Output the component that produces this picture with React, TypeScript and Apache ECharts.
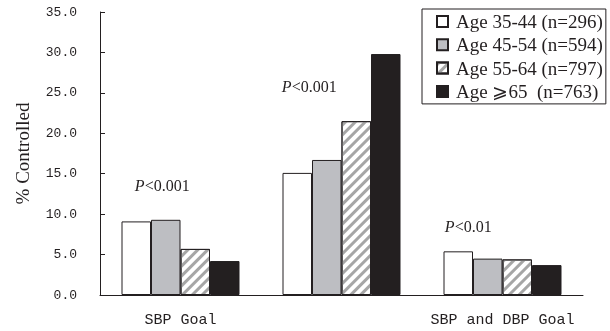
import React, { useEffect, useRef } from "react";
import * as echarts from "echarts";

const categories = ["SBP Goal", "DBP Goal", "SBP and DBP Goal"];
const seriesNames = [
  "Age 35-44 (n=296)",
  "Age 45-54 (n=594)",
  "Age 55-64 (n=797)",
  "Age \u2A7E65\u00A0\u00A0(n=763)",
];
const age35_44 = [9.1, 15.1, 5.4];
const age45_54 = [9.3, 16.7, 4.5];
const age55_64 = [5.7, 21.5, 4.4];
const age65plus = [4.2, 29.8, 3.7];
const yTicks = { min: 0, max: 35, interval: 5 };
const pLabels = [
  { cat: "SBP Goal", value: 13.6, p: "<0.001", dx: 26 },
  { cat: "DBP Goal", value: 25.8, p: "<0.001", dx: 12 },
  { cat: "SBP and DBP Goal", value: 8.5, p: "<0.01", dx: 10 },
];

const INK = "#231f20";
const SERIF = "'Liberation Serif', 'Times New Roman', serif";
const MONO = "'Liberation Mono', monospace";

export default function App() {
  const ref = useRef<HTMLDivElement>(null);
  useEffect(() => {
    if (!ref.current) return;
    const chart = echarts.init(ref.current, null, { renderer: "svg" });
    const border = { borderColor: INK, borderWidth: 1 };
    const styles = [
      { color: "#ffffff", ...border },
      { color: "#bdbec2", ...border },
      {
        color: "#ffffff",
        ...border,
        decal: {
          symbol: "rect",
          symbolSize: 1,
          color: "#a6a6a6",
          dashArrayX: [1, 0],
          dashArrayY: [2.2, 3.8],
          rotation: -Math.PI / 4,
        },
      },
      { color: INK, ...border },
    ];
    const datas = [age35_44, age45_54, age55_64, age65plus];
    const series: any[] = datas.map((d, i) => ({
      name: seriesNames[i],
      type: "bar",
      data: d,
      barWidth: 29.5,
      barGap: "0%",
      itemStyle: styles[i],
      emphasis: { disabled: true },
    }));
    series[0].markPoint = {
      symbol: "circle",
      symbolSize: 0,
      silent: true,
      data: pLabels.map((p) => ({
        coord: [p.cat, p.value],
        label: {
          show: true,
          formatter: "{i|P}{n|" + p.p + "}",
          offset: [p.dx, 0],
          rich: {
            i: { fontFamily: SERIF, fontSize: 16, fontStyle: "italic", color: INK },
            n: { fontFamily: SERIF, fontSize: 16, color: INK },
          },
        },
      })),
    };
    chart.setOption({
      animation: false,
      grid: { left: 100, right: 27, top: 12, bottom: 36 },
      legend: {
        orient: "vertical",
        left: 422,
        top: 9,
        data: seriesNames,
        selectedMode: false,
        borderColor: INK,
        borderWidth: 1,
        borderRadius: 0,
        padding: [3, 3, 3, 14],
        itemWidth: 11,
        itemHeight: 11,
        itemGap: 4.3,
        icon: "rect",
        textStyle: {
          fontFamily: SERIF,
          fontSize: 19,
          lineHeight: 18,
          color: INK,
          padding: [0, 0, 0, 3],
        },
      },
      xAxis: {
        type: "category",
        data: categories,
        axisLine: { lineStyle: { color: INK, width: 1 } },
        axisTick: { inside: true, length: 5, lineStyle: { color: INK } },
        axisLabel: { fontFamily: MONO, fontSize: 15, color: INK, margin: 18 },
      },
      yAxis: {
        type: "value",
        min: yTicks.min,
        max: yTicks.max,
        interval: yTicks.interval,
        name: "% Controlled",
        nameLocation: "middle",
        nameGap: 68,
        nameRotate: 90,
        nameTextStyle: { fontFamily: SERIF, fontSize: 19, color: INK },
        axisLine: { show: true, lineStyle: { color: INK, width: 1 } },
        axisTick: { show: true, inside: true, length: 5, lineStyle: { color: INK } },
        splitLine: { show: false },
        axisLabel: {
          fontFamily: MONO,
          fontSize: 13,
          color: INK,
          margin: 23,
          formatter: (v: number) => v.toFixed(1),
        },
      },
      series,
    });
    return () => chart.dispose();
  }, []);
  return (
    <div
      ref={ref}
      style={{ position: "fixed", left: 0, top: 0, width: 610, height: 331 }}
    />
  );
}
